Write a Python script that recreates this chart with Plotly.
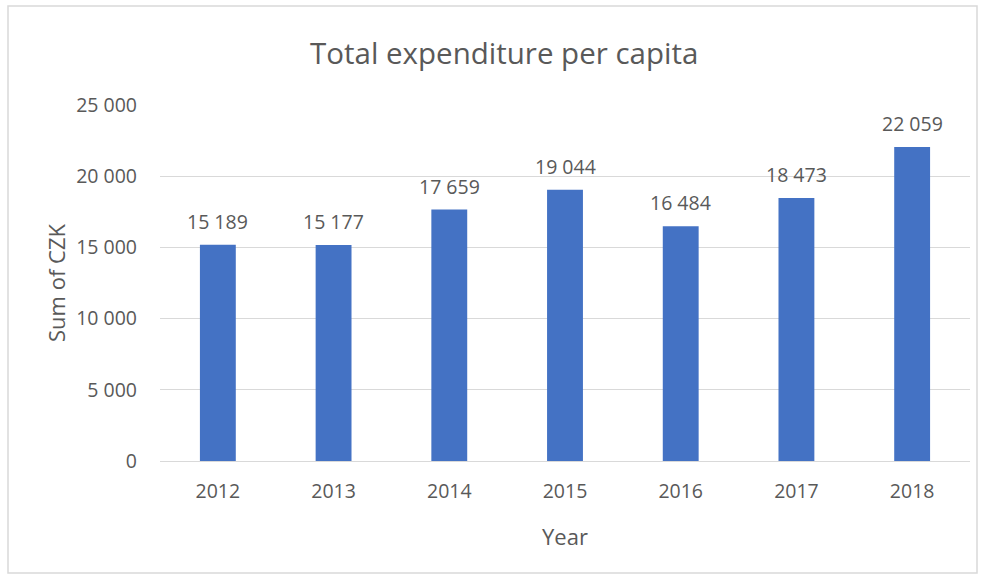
import plotly.graph_objects as go

years = [2012, 2013, 2014, 2015, 2016, 2017, 2018]
values = [15189, 15177, 17659, 19044, 16484, 18473, 22059]
y_tick_vals = [0, 5000, 10000, 15000, 20000, 25000]
y_tick_text = ["0", "5 000", "10 000", "15 000", "20 000", "25 000"]

W, H = 984, 577
L, R, T, B = 160, 14, 105, 116
pw, ph = W - L - R, H - T - B

def px_x(p):
    return (p - L) / pw

def px_y(p):
    return (H - B - p) / ph

TXT = "#595959"
FONT = "Open Sans"

fig = go.Figure()
fig.add_trace(go.Bar(x=years, y=values, width=0.31,
                     marker=dict(color="#4472C4", line=dict(width=0)),
                     hoverinfo="x+y"))

annotations = []
for yr, v in zip(years, values):
    annotations.append(dict(x=yr, y=v, xref="x", yref="y", text=f"{v:,}".replace(",", " "),
                            showarrow=False, yanchor="bottom", yshift=8,
                            font=dict(family=FONT, size=19.5, color=TXT)))
annotations.append(dict(x=px_x(504), y=px_y(52), xref="paper", yref="paper",
                        text="Total expenditure per capita", showarrow=False,
                        xanchor="center", yanchor="middle",
                        font=dict(family=FONT, size=29.5, color=TXT)))

fig.update_layout(
    width=W, height=H,
    margin=dict(l=L, r=R, t=T, b=B, pad=0),
    paper_bgcolor="white", plot_bgcolor="white",
    showlegend=False,
    annotations=annotations,
    shapes=[dict(type="rect", xref="paper", yref="paper",
                 x0=px_x(8), x1=px_x(977), y0=px_y(573), y1=px_y(6),
                 line=dict(color="#D9D9D9", width=1.5), layer="below")],
    xaxis=dict(
        range=[years[0] - 0.5, years[-1] + 0.5], tickvals=years,
        ticktext=[str(y) for y in years],
        showgrid=False, zeroline=False, showline=False,
        ticks="", tickfont=dict(family=FONT, size=19.5, color=TXT),
        ticklabelstandoff=16,
        title=dict(text="Year", font=dict(family=FONT, size=22, color=TXT), standoff=27),
    ),
    yaxis=dict(
        range=[0, 25000], tickvals=y_tick_vals, ticktext=y_tick_text,
        showgrid=True, gridcolor="#D9D9D9", gridwidth=1.3,
        zeroline=True, zerolinecolor="#D9D9D9", zerolinewidth=1.3,
        showline=False, ticks="", ticklabelstandoff=22,
        tickfont=dict(family=FONT, size=19.5, color=TXT),
        title=dict(text="Sum of CZK", font=dict(family=FONT, size=22, color=TXT), standoff=4),
    ),
)

fig.write_html("out.html")
